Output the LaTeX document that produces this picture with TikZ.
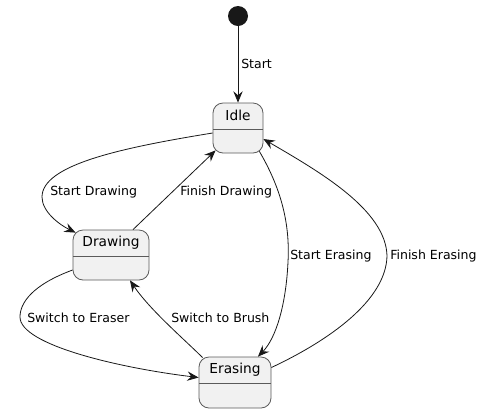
\documentclass[tikz,border=0pt]{standalone}
\usepackage{fontspec}
\setmainfont{DejaVu Sans}
\usetikzlibrary{arrows.meta}
\usepackage{xcolor}

\definecolor{stateFill}{HTML}{F1F1F1}
\definecolor{stateLine}{HTML}{5A5A5A}
\definecolor{edgeLine}{HTML}{181818}

\begin{document}
\begin{tikzpicture}[x=0.75pt, y=-0.75pt,
    state/.style={draw=stateLine, fill=stateFill, line width=0.6pt, rounded corners=7.5pt, inner sep=0pt,
        path picture={\draw[stateLine, line width=0.6pt] ([yshift=-19.5pt]path picture bounding box.north west) -- ([yshift=-19.5pt]path picture bounding box.north east);}},
    stateName/.style={inner sep=0pt, font=\fontsize{10.3}{12}\selectfont},
    edgeLabel/.style={inner sep=0pt, anchor=west, font=\fontsize{9.4}{11}\selectfont},
    edge/.style={draw=edgeLine, line width=0.6pt, -{Stealth[length=8.5pt, width=7pt, inset=3pt]}}]

    \useasboundingbox (0,0) rectangle (482,412);

    %%% states %%%
    \node[circle, fill=edgeLine, minimum size=15pt, inner sep=0pt] (start) at (238,16) {};
    \node[state, minimum width=37.5pt, minimum height=37.5pt] (idle) at (238,128) {};
    \node[state, minimum width=57pt, minimum height=37.5pt] (drawing) at (111,255) {};
    \node[state, minimum width=54pt, minimum height=38.25pt] (erasing) at (235,382.5) {};

    % names in the top part
    \node[stateName] (idleName) at ([yshift=-9.75pt]idle.north) {Idle};
    \node[stateName] (drawingName) at ([yshift=-9.75pt]drawing.north) {Drawing};
    \node[stateName] (erasingName) at ([yshift=-9.75pt]erasing.north) {Erasing};

    %%% transitions %%%
    \draw[edge] (start) -- (idle);
    \draw[edge] ([yshift=-3.75pt]idle.west) .. controls (120,148) and (42,165) .. (42,197)
        .. controls (42,212) and (60,225) .. ([shift={(3,3)}]drawing.north west);
    \draw[edge] ([xshift=16.5pt]drawing.north) -- ([shift={(3,-3)}]idle.south west);
    \draw[edge] ([shift={(-4,-2)}]idle.south east) .. controls (282,190) and (290,225) .. (288,262)
        .. controls (286,305) and (276,338) .. ([xshift=17.25pt]erasing.north);
    \draw[edge] ([shift={(0,-15)}]erasing.east) .. controls (330,340) and (386,300) .. (387,256)
        .. controls (386,210) and (320,172) .. ([shift={(0,11)}]idle.east);
    \draw[edge] ([shift={(0,15)}]drawing.west) .. controls (32,285) and (20,303) .. (20,317)
        .. controls (20,345) and (120,368) .. ([shift={(0,-5)}]erasing.west);
    \draw[edge] ([shift={(4,1)}]erasing.north west) .. controls (185,340) and (150,310) .. ([xshift=14.25pt]drawing.south);

    %%% labels %%%
    \node[edgeLabel] (startLabel) at (241,64) {Start};
    \node[edgeLabel] (startDrawingLabel) at (50,192) {Start Drawing};
    \node[edgeLabel] (finishDrawingLabel) at (180,192) {Finish Drawing};
    \node[edgeLabel] (startErasingLabel) at (290,256) {Start Erasing};
    \node[edgeLabel] (finishErasingLabel) at (390,256) {Finish Erasing};
    \node[edgeLabel] (toEraserLabel) at (27,318) {Switch to Eraser};
    \node[edgeLabel] (toBrushLabel) at (171,318) {Switch to Brush};
\end{tikzpicture}
\end{document}
